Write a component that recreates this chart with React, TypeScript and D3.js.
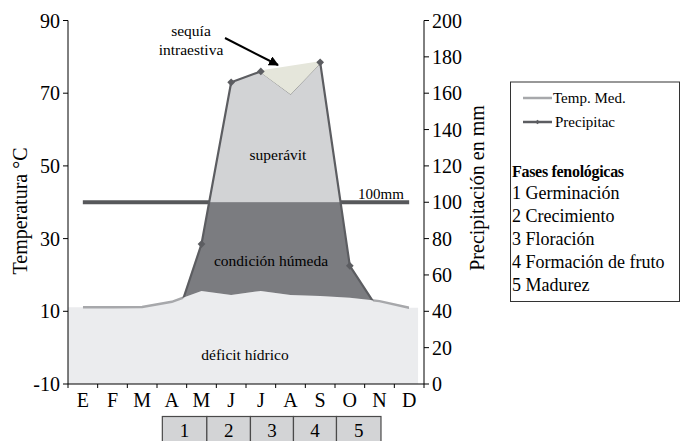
import * as d3 from "d3";

// datos mensuales
const months = ["E", "F", "M", "A", "M", "J", "J", "A", "S", "O", "N", "D"];
const tempMed = [11.1, 11.1, 11.2, 12.6, 15.6, 14.5, 15.6, 14.5, 14.2, 13.7, 12.8, 11.0];
const precip = [9, 7, 9, 28, 77, 166, 172, 160, 177, 65, 40, 14];
const umbralMm = 100;
const sequiaIdx = [6, 7, 8];

const tempTicks = [-10, 10, 30, 50, 70, 90];
const precipTicks = [0, 20, 40, 60, 80, 100, 120, 140, 160, 180, 200];

// fases fenológicas (en unidades de mes)
const faseLimites = [3.18, 4.68, 6.15, 7.6, 9.05, 10.55];
const faseNum = ["1", "2", "3", "4", "5"];
const faseNombres = ["Germinación", "Crecimiento", "Floración", "Formación de fruto", "Madurez"];

const W = 685;
const H = 441;
const FONT = "Liberation Serif";

const C = {
  deficit: "#ebecee",
  humedo: "#7b7c80",
  superavit: "#d2d3d5",
  sequia: "#e5e6db",
  temp: "#a7a8ab",
  precip: "#5c5d61",
  umbral: "#57585b",
  fase: "#d3d4d6",
};

export default function App() {
  const x = d3.scaleLinear().domain([0, 12]).range([68, 424]);
  const cx = (i: number) => x(i + 0.5);
  const yT = d3.scaleLinear().domain([-10, 90]).range([384, 20.5]);
  const yP = d3.scaleLinear().domain([0, 200]).range([384, 20.5]);

  // temperatura extendida a los bordes para el área de déficit
  const tempExt = [
    { x: x(0), t: tempMed[0] },
    ...tempMed.map((t, i) => ({ x: cx(i), t })),
    { x: x(11.8), t: tempMed[11] },
  ];
  const deficitArea = d3
    .area<{ x: number; t: number }>()
    .x((d) => d.x)
    .y0(yP(0))
    .y1((d) => yT(d.t))(tempExt);

  const tempWide = [
    { x: 0, t: tempMed[0] },
    ...tempMed.map((t, i) => ({ x: cx(i), t })),
    { x: W, t: tempMed[11] },
  ];
  const aboveTemp = d3
    .area<{ x: number; t: number }>()
    .x((d) => d.x)
    .y0(0)
    .y1((d) => yT(d.t))(tempWide);

  const abovePrecip = d3
    .area<number>()
    .x((_, i) => cx(i))
    .y0(0)
    .y1((p) => yP(p))(precip);

  const precipArea = d3
    .area<number>()
    .x((_, i) => cx(i))
    .y0(yP(0))
    .y1((p) => yP(p))(precip);

  const precipLine = d3
    .line<number>()
    .x((_, i) => cx(i))
    .y((p) => yP(p))(precip);

  const tempLine = d3
    .line<number>()
    .x((_, i) => cx(i))
    .y((t) => yT(t))(tempMed);

  const umbralLine = d3
    .line<string>()
    .x((_, i) => cx(i))
    .y(yP(umbralMm))(months);

  const sequiaPath =
    d3
      .line<number>()
      .x((i) => cx(i))
      .y((i) => yP(precip[i]))(sequiaIdx) + "Z";

  const diamond = d3.symbol(d3.symbolSquare, 30)();
  const markerIdx = precip
    .map((p, i) => i)
    .filter((i) => precip[i] > 2 * (tempMed[i] + 10))
    .filter((i) => !(sequiaIdx.indexOf(i) > 0 && sequiaIdx.indexOf(i) < sequiaIdx.length - 1));

  return (
    <div style={{ position: "absolute", left: 0, top: 0 }}>
      <svg width={W} height={H} style={{ display: "block" }}>
        <defs>
          <clipPath id="above100">
            <rect x={0} y={0} width={W} height={yP(umbralMm)} />
          </clipPath>
          <clipPath id="below100">
            <rect x={0} y={yP(umbralMm)} width={W} height={H} />
          </clipPath>
          <clipPath id="aboveTemp">
            <path d={aboveTemp ?? ""} />
          </clipPath>
          <clipPath id="abovePrecip">
            <path d={abovePrecip ?? ""} />
          </clipPath>
          <marker id="arrow" viewBox="0 0 10 10" refX="9" refY="5" markerWidth="5" markerHeight="5" orient="auto">
            <path d="M0,0 L10,5 L0,10 z" fill="#000" />
          </marker>
        </defs>

        {/* línea de 100 mm */}
        <path d={umbralLine ?? ""} fill="none" stroke={C.umbral} strokeWidth={4} />
        <text x={358} y={199} fontFamily={FONT} fontSize={15}>100mm</text>

        {/* déficit hídrico */}
        <path d={deficitArea ?? ""} fill={C.deficit} />
        <path d={tempLine ?? ""} fill="none" stroke={C.temp} strokeWidth={2.5} clipPath="url(#abovePrecip)" />

        {/* condición húmeda y superávit */}
        <g clipPath="url(#below100)">
          <path d={precipArea ?? ""} fill={C.humedo} clipPath="url(#aboveTemp)" />
        </g>
        <path d={precipArea ?? ""} fill={C.superavit} clipPath="url(#above100)" />

        <path d={precipLine ?? ""} fill="none" stroke={C.precip} strokeWidth={2.2} clipPath="url(#aboveTemp)" />
        <path d={sequiaPath} fill={C.sequia} stroke={C.sequia} strokeWidth={2} />
        {markerIdx.map((i) => (
          <path
            key={i}
            d={diamond ?? ""}
            transform={`translate(${cx(i)},${yP(precip[i])}) rotate(45)`}
            fill={C.precip}
          />
        ))}

        {/* etiquetas de zonas */}
        <text x={278} y={160} fontFamily={FONT} fontSize={15.5} textAnchor="middle">superávit</text>
        <text x={271} y={266} fontFamily={FONT} fontSize={15.5} textAnchor="middle">condición húmeda</text>
        <text x={245} y={360} fontFamily={FONT} fontSize={15.5} textAnchor="middle">déficit hídrico</text>

        {/* sequía intraestiva */}
        <text x={191} y={36} fontFamily={FONT} fontSize={15.5} textAnchor="middle">sequía</text>
        <text x={191} y={54.5} fontFamily={FONT} fontSize={15.5} textAnchor="middle">intraestiva</text>
        <line x1={225} y1={38} x2={278} y2={65} stroke="#000" strokeWidth={2} markerEnd="url(#arrow)" />

        {/* eje izquierdo */}
        <line x1={68} x2={68} y1={yT(90)} y2={yT(-10)} stroke="#000" strokeWidth={1} />
        {tempTicks.map((t) => (
          <g key={t}>
            <line x1={63} x2={68} y1={yT(t)} y2={yT(t)} stroke="#000" />
            <text x={60} y={yT(t)} dy="0.35em" fontFamily={FONT} fontSize={20} textAnchor="end">{t}</text>
          </g>
        ))}
        <text transform={`translate(27,211) rotate(-90)`} fontFamily={FONT} fontSize={20} textAnchor="middle">Temperatura °C</text>

        {/* eje derecho */}
        <line x1={424} x2={424} y1={yP(200)} y2={yP(0)} stroke="#000" strokeWidth={1} />
        {precipTicks.map((p) => (
          <g key={p}>
            <line x1={424} x2={429} y1={yP(p)} y2={yP(p)} stroke="#000" />
            <text x={432} y={yP(p)} dy="0.35em" fontFamily={FONT} fontSize={20}>{p}</text>
          </g>
        ))}
        <text transform={`translate(484,188) rotate(-90)`} fontFamily={FONT} fontSize={20} textAnchor="middle">Precipitación en mm</text>

        {/* eje x */}
        <line x1={x(0)} x2={x(12)} y1={384} y2={384} stroke="#000" strokeWidth={1} />
        {d3.range(13).map((i) => (
          <line key={i} x1={x(i)} x2={x(i)} y1={384} y2={388} stroke="#000" />
        ))}
        {months.map((m, i) => (
          <text key={i} x={cx(i)} y={407} fontFamily={FONT} fontSize={20} textAnchor="middle">{m}</text>
        ))}

        {/* fases */}
        {faseNum.map((f, i) => (
          <g key={f}>
            <rect
              x={x(faseLimites[i])}
              y={416.5}
              width={x(faseLimites[i + 1]) - x(faseLimites[i])}
              height={40}
              fill={C.fase}
              stroke="#4a4a4a"
              strokeWidth={1.2}
            />
            <text x={(x(faseLimites[i]) + x(faseLimites[i + 1])) / 2} y={437} fontFamily={FONT} fontSize={19} textAnchor="middle">{f}</text>
          </g>
        ))}

        {/* leyenda */}
        <rect x={510.5} y={82} width={169} height={219.5} fill="#fff" stroke="#333" strokeWidth={1} />
        <line x1={523} x2={552} y1={98} y2={98} stroke={C.temp} strokeWidth={2.5} />
        <text x={553} y={103} fontFamily={FONT} fontSize={15}>Temp. Med.</text>
        <line x1={523} x2={552} y1={122} y2={122} stroke={C.precip} strokeWidth={2.5} />
        <path d={diamond ?? ""} transform="translate(537.5,122) rotate(45) scale(0.6)" fill={C.precip} />
        <text x={555} y={127} fontFamily={FONT} fontSize={15}>Precipitac</text>
        <text x={512} y={177} fontFamily={FONT} fontSize={16} fontWeight="bold" letterSpacing={-0.3}>Fases fenológicas</text>
        {faseNombres.map((n, i) => (
          <text key={n} x={512} y={199 + i * 23} fontFamily={FONT} fontSize={18}>{`${faseNum[i]} ${n}`}</text>
        ))}
      </svg>
    </div>
  );
}
